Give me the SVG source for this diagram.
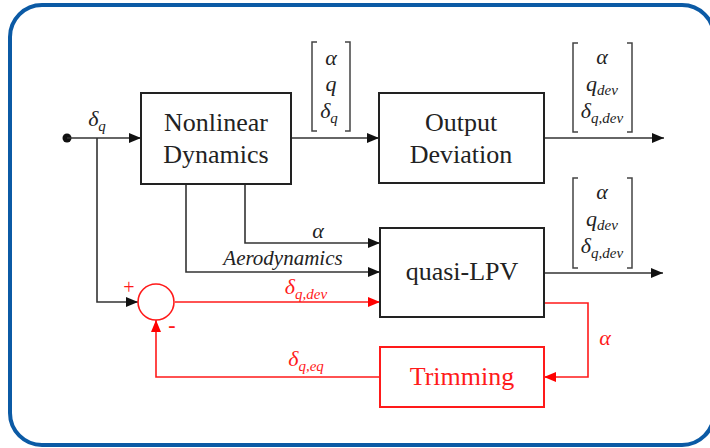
<svg xmlns="http://www.w3.org/2000/svg" width="710" height="448" viewBox="0 0 710 448">
<defs>
<marker id="ak" viewBox="0 0 12 10" refX="12" refY="5" markerWidth="12" markerHeight="10" markerUnits="userSpaceOnUse" orient="auto"><path d="M0,0 L12,5 L0,10 Z" fill="#111"/></marker>
<marker id="ar" viewBox="0 0 12 10" refX="12" refY="5" markerWidth="12" markerHeight="10" markerUnits="userSpaceOnUse" orient="auto"><path d="M0,0 L12,5 L0,10 Z" fill="#ff0000"/></marker>
<style>
.box{fill:#fff;stroke:#222;stroke-width:2}
.rbox{fill:#fff;stroke:#ff1a1a;stroke-width:2}
.ln{fill:none;stroke:#333;stroke-width:1.6}
.rl{fill:none;stroke:#ff1a1a;stroke-width:1.6}
.br{fill:none;stroke:#444;stroke-width:1.5}
.t{font-family:"Liberation Serif","DejaVu Serif",serif;font-size:26px;fill:#222;text-anchor:middle}
.m{font-family:"Liberation Serif","DejaVu Serif",serif;font-style:italic;font-size:22px;fill:#222;text-anchor:middle}
.red{fill:#ff1a1a}
.s{font-size:15px}
</style>
</defs>
<rect x="10" y="5" width="704" height="440" rx="32" fill="#fff" stroke="#0b5aa5" stroke-width="4"/>
<g id="connectors">
<circle cx="67" cy="138" r="4.5" fill="#111"/>
<path class="ln" d="M67,138 H141" marker-end="url(#ak)"/>
<path class="ln" d="M97,138 V302 H138" marker-end="url(#ak)"/>
<path class="ln" d="M291,138 H379" marker-end="url(#ak)"/>
<path class="ln" d="M544,138 H664" marker-end="url(#ak)"/>
<path class="ln" d="M544,273 H663" marker-end="url(#ak)"/>
<path class="ln" d="M245,184 V243 H380" marker-end="url(#ak)"/>
<path class="ln" d="M186,184 V272 H380" marker-end="url(#ak)"/>
<path class="rl" d="M175,302 H380" marker-end="url(#ar)"/>
<path class="rl" d="M544,303 H588 V377 H544" marker-end="url(#ar)"/>
<path class="rl" d="M380,377 H156 V320" marker-end="url(#ar)"/>
<text class="m" x="97" y="126">δ<tspan class="s" dy="5">q</tspan></text>
<text class="m" x="318" y="238">α</text>
<text class="m" x="283" y="265" style="font-size:21px">Aerodynamics</text>
<text class="m red" x="306" y="294">δ<tspan class="s" dy="5">q,dev</tspan></text>
<text class="m red" x="306" y="366">δ<tspan class="s" dy="5">q,eq</tspan></text>
<text class="m red" x="605" y="345">α</text>
<text class="m red" x="129" y="294" style="font-style:normal;font-size:20px">+</text>
<text class="m red" x="172" y="332" style="font-style:normal;font-size:22px;font-weight:bold">-</text>
</g>
<g id="vec1">
<path class="br" d="M317,42 H312 V131 H317 M345,42 H350 V131 H345"/>
<text class="m" x="331" y="65">α</text>
<text class="m" x="331" y="91">q</text>
<text class="m" x="329" y="118">δ<tspan class="s" dy="5">q</tspan></text>
</g>
<g id="vec2">
<path class="br" d="M578,43 H573 V132 H578 M627,43 H632 V132 H627"/>
<text class="m" x="602" y="64">α</text>
<text class="m" x="602" y="91">q<tspan class="s" dy="4">dev</tspan></text>
<text class="m" x="602" y="118">δ<tspan class="s" dy="5">q,dev</tspan></text>
</g>
<g id="vec3">
<path class="br" d="M578,178 H573 V268 H578 M627,178 H632 V268 H627"/>
<text class="m" x="602" y="199">α</text>
<text class="m" x="602" y="226">q<tspan class="s" dy="4">dev</tspan></text>
<text class="m" x="602" y="253">δ<tspan class="s" dy="5">q,dev</tspan></text>
</g>
<g id="sum">
<circle cx="156" cy="302" r="18" fill="#fff" stroke="#ff1a1a" stroke-width="1.6"/>
</g>
<g id="nonlinear">
<rect class="box" x="141" y="93" width="150" height="91"/>
<text class="t" x="216" y="131">Nonlinear</text>
<text class="t" x="216" y="163">Dynamics</text>
</g>
<g id="output-deviation">
<rect class="box" x="379" y="93" width="165" height="90"/>
<text class="t" x="461" y="131">Output</text>
<text class="t" x="461" y="163">Deviation</text>
</g>
<g id="quasi-lpv">
<rect class="box" x="380" y="228" width="164" height="89"/>
<text class="t" x="462" y="280">quasi-LPV</text>
</g>
<g id="trimming">
<rect class="rbox" x="380" y="347" width="164" height="60"/>
<text class="t red" x="462" y="385">Trimming</text>
</g>
</svg>
